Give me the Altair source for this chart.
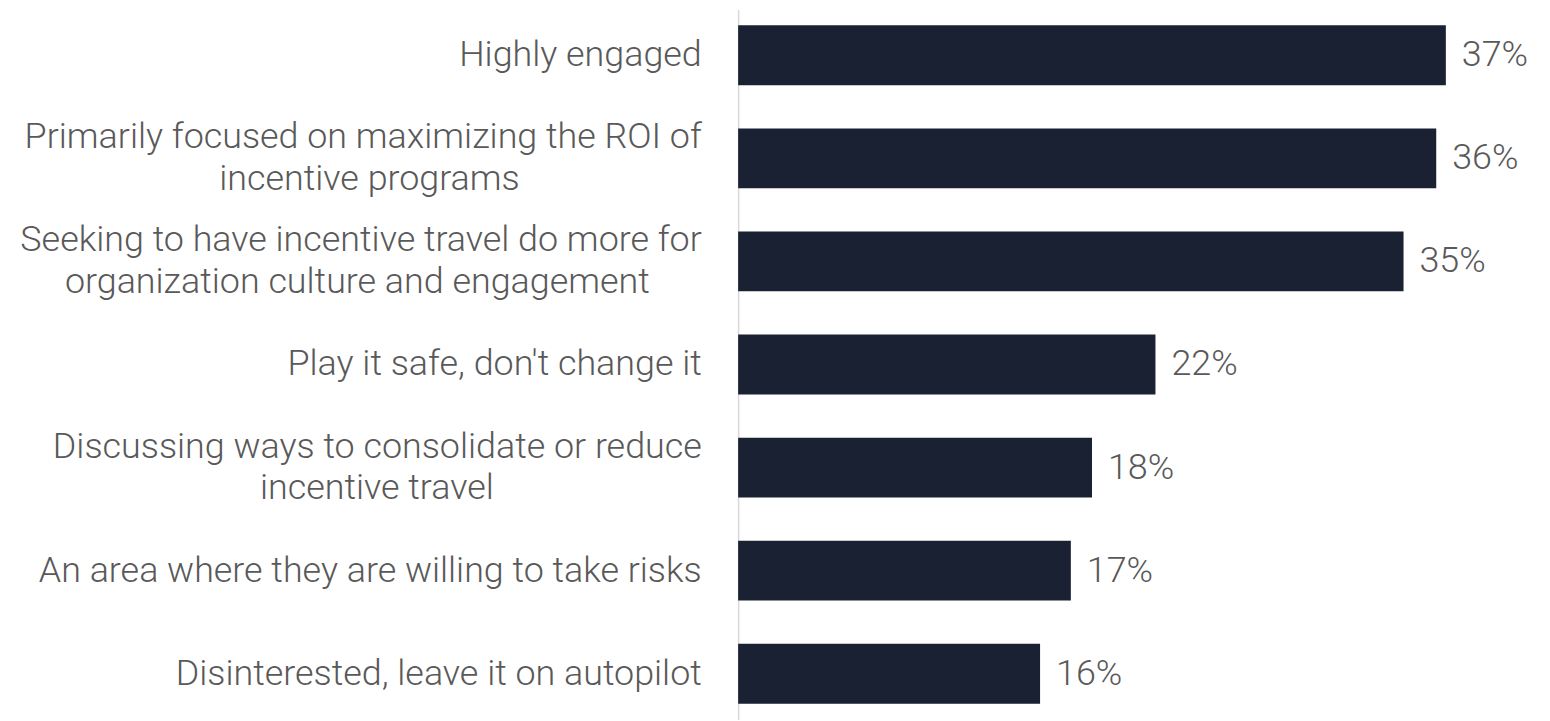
import altair as alt
import pandas as pd

categories = [
    "Highly engaged",
    "Primarily focused on maximizing the ROI of\nincentive programs",
    "Seeking to have incentive travel do more for\norganization culture and engagement",
    "Play it safe, don't change it",
    "Discussing ways to consolidate or reduce\nincentive travel",
    "An area where they are willing to take risks",
    "Disinterested, leave it on autopilot",
]
values = [36.8, 36.3, 34.6, 21.7, 18.4, 17.3, 15.7]

# trailing blank glyphs used only to centre second label lines (style)
second_line_pad = [0, 7, 2, 0, 8, 0, 0]
PAD = "\u2800"

def display(cat, pad):
    if "\n" in cat:
        a, b = cat.split("\n")
        return a + "\n" + b + PAD * pad
    return cat

labels = [display(c, p) for c, p in zip(categories, second_line_pad)]

df = pd.DataFrame({"category": labels, "value": values})

base = alt.Chart(df).encode(
    y=alt.Y(
        "category:N",
        sort=labels,
        scale=alt.Scale(paddingInner=0.42, paddingOuter=0.155),
        axis=alt.Axis(
            title=None,
            ticks=False,
            grid=False,
            domain=True,
            domainColor="#d9d9d9",
            domainWidth=1.5,
            labelFont="Roboto",
            labelFontWeight=300,
            labelFontSize=36,
            labelColor="#595959",
            labelPadding=37,
            labelLineHeight=42,
            labelLimit=0,
            labelBaseline="middle",
            labelOffset={
                "condition": {"test": "indexof(datum.label, '\\n') >= 0", "value": -21},
                "value": 0,
            },
            labelExpr="split(datum.label, '\\n')",
        ),
    ),
    x=alt.X("value:Q", scale=alt.Scale(domain=[0, 41.8], nice=False), axis=None),
)

bars = base.mark_bar(color="#1a2133")

text = base.transform_calculate(lab="format(datum.value, '.0f') + '%'").mark_text(
    align="left",
    baseline="middle",
    dx=16,
    font="Roboto",
    fontWeight=300,
    fontSize=36,
    color="#595959",
).encode(text="lab:N")

chart = (
    (bars + text)
    .properties(
        width=807,
        height=713,
        autosize=alt.AutoSizeParams(type="none"),
        padding={"left": 733, "top": 0, "right": 0, "bottom": 0},
    )
    .configure_view(stroke=None)
)

chart.save("out.html", embed_options={"renderer": "svg", "actions": False})
